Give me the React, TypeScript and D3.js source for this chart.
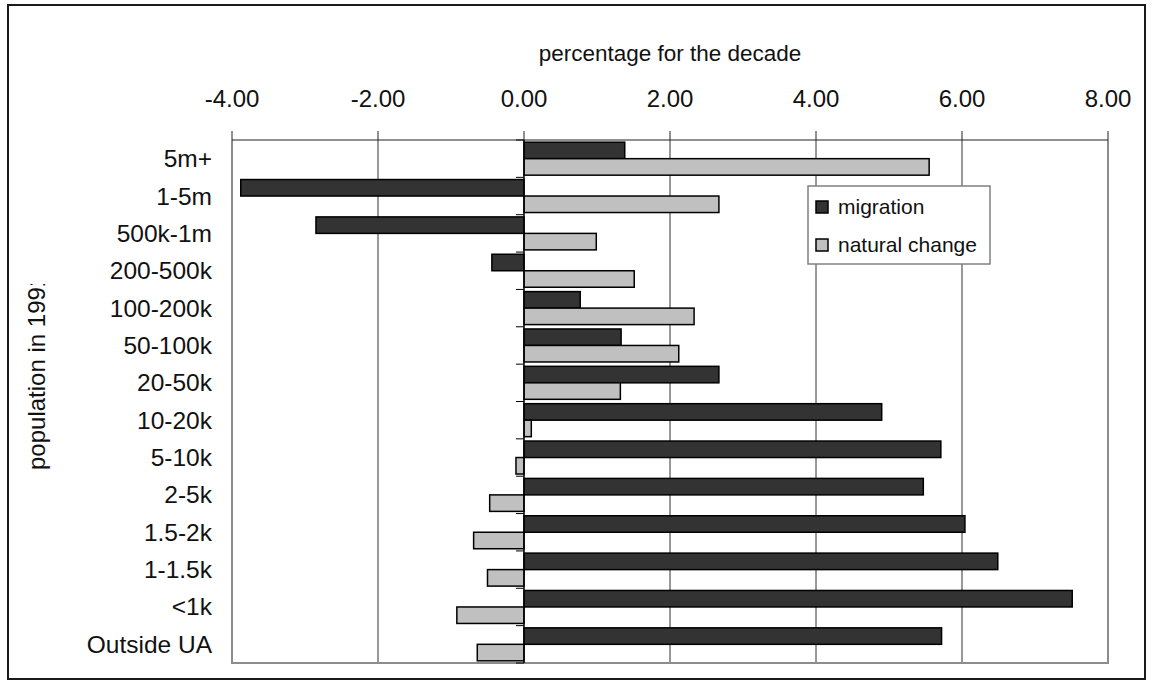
import React from "react";
import * as d3 from "d3";

const categories = ["5m+", "1-5m", "500k-1m", "200-500k", "100-200k", "50-100k", "20-50k", "10-20k", "5-10k", "2-5k", "1.5-2k", "1-1.5k", "<1k", "Outside UA"];
const migration = [1.38, -3.88, -2.85, -0.44, 0.77, 1.33, 2.67, 4.9, 5.71, 5.47, 6.04, 6.49, 7.51, 5.72];
const naturalChange = [5.55, 2.67, 0.99, 1.51, 2.33, 2.12, 1.32, 0.1, -0.11, -0.47, -0.69, -0.5, -0.92, -0.64];
const xTicks = [-4, -2, 0, 2, 4, 6, 8];
const seriesNames = ["migration", "natural change"];
const seriesColors = ["#333333", "#c0c0c0"];

const FONT = "'Liberation Sans', Arial, Helvetica, sans-serif";

export default function App() {
  const left = 232, right = 1108, top = 140, bottom = 663;
  const x = d3.scaleLinear().domain([-4, 8]).range([left, right]);
  const y = d3.scaleBand<string>().domain(categories).range([top, bottom]).paddingInner(0.117).paddingOuter(0.0585);
  const step = y.step();
  const bh = y.bandwidth() / 2;
  const fmt = (v: number) => d3.format(".2f")(v).replace("\u2212", "-");
  const series = [migration, naturalChange];

  return (
    <svg width={1152} height={690} style={{ position: "absolute", left: 0, top: 0, background: "#fff" }} fontFamily={FONT}>
      <defs>
        <clipPath id="ytitle-clip">
          <rect x={0} y={284} width={100} height={300} />
        </clipPath>
      </defs>
      <rect x={8} y={5} width={1137} height={674} fill="#fff" stroke="#1a1a1a" strokeWidth={2} />

      {/* gridlines */}
      {xTicks.filter((t) => t !== -4 && t !== 8 && t !== 0).map((t) => (
        <line key={"g" + t} x1={x(t)} x2={x(t)} y1={top} y2={bottom} stroke="#333" strokeWidth={1} />
      ))}

      {/* plot area border (left, right, bottom) */}
      <path d={`M${left},${top} V${bottom} H${right} V${top}`} fill="none" stroke="#8c8c8c" strokeWidth={2} />

      {/* top axis */}
      <line x1={left} x2={right} y1={top} y2={top} stroke="#222" strokeWidth={1} />
      {xTicks.map((t) => (
        <g key={"t" + t}>
          <line x1={x(t)} x2={x(t)} y1={top - 9} y2={top} stroke="#222" strokeWidth={1} />
          <text x={x(t)} y={107} textAnchor="middle" fontSize={24} fill="#111">{fmt(t)}</text>
        </g>
      ))}
      <text x={(left + right) / 2} y={61} textAnchor="middle" fontSize={22.5} fill="#111">percentage for the decade</text>

      {/* bars */}
      {categories.map((c, i) => (
        <g key={c}>
          {series.map((s, j) => {
            const v = s[i];
            const x0 = x(Math.min(0, v));
            const w = Math.abs(x(v) - x(0));
            return (
              <rect key={j} x={x0} y={(y(c) as number) + j * bh} width={w} height={bh}
                fill={seriesColors[j]} stroke="#000" strokeWidth={1.5} />
            );
          })}
        </g>
      ))}

      {/* category axis at zero */}
      <line x1={x(0)} x2={x(0)} y1={top} y2={bottom} stroke="#000" strokeWidth={1.5} />
      {d3.range(categories.length + 1).map((k) => (
        <line key={"ct" + k} x1={x(0) - 8} x2={x(0)} y1={top + k * step} y2={top + k * step} stroke="#000" strokeWidth={1} />
      ))}

      {/* category labels */}
      {categories.map((c) => (
        <text key={"l" + c} x={212} y={(y(c) as number) + bh + 8.5} textAnchor="end" fontSize={24.5} fill="#111">{c}</text>
      ))}

      {/* y title */}
      <g clipPath="url(#ytitle-clip)">
        <text transform={`translate(45,470) rotate(-90)`} fontSize={24} fill="#111">population in 1991</text>
      </g>

      {/* legend */}
      <rect x={808} y={186} width={182} height={78} fill="#fff" stroke="#808080" strokeWidth={1.5} />
      {seriesNames.map((n, j) => (
        <g key={n}>
          <rect x={816} y={201 + j * 38} width={12} height={12} fill={seriesColors[j]} stroke="#000" strokeWidth={1.5} />
          <text x={838} y={214 + j * 38} fontSize={21} fill="#111">{n}</text>
        </g>
      ))}
    </svg>
  );
}
